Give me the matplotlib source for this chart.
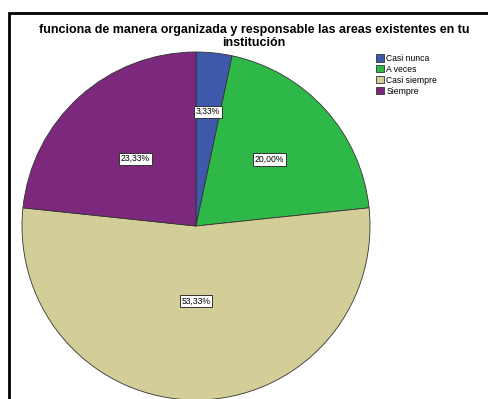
import matplotlib.pyplot as plt
import numpy as np
from matplotlib.patches import Rectangle

categories = ["Casi nunca", "A veces", "Casi siempre", "Siempre"]
percentages = [3.33, 20.00, 53.33, 23.33]
colors = ["#3E58AC", "#2EB848", "#D3CE97", "#7C287D"]
# how far out along each wedge's bisector the value box sits (fraction of radius)
label_radius = [0.66, 0.57, 0.43, 0.52]

title = "funciona de manera organizada y responsable las areas existentes en tu\ninstitución"

plt.rcParams["font.family"] = ["Liberation Sans", "DejaVu Sans"]

W, H = 489, 399
fig = plt.figure(figsize=(W / 100, H / 100), dpi=100)
ax = fig.add_axes([0, 0, 1, 1])

cx, cy, r = 196, H - 226, 174
wedges, _ = ax.pie(percentages, colors=colors, startangle=90, counterclock=False,
                   center=(cx, cy), radius=r, frame=True,
                   wedgeprops=dict(edgecolor="#333333", linewidth=0.6))

for w, pct, f in zip(wedges, percentages, label_radius):
    mid = np.deg2rad((w.theta1 + w.theta2) / 2)
    x = cx + f * r * np.cos(mid)
    y = cy + f * r * np.sin(mid)
    ax.text(x, y, f"{pct:.2f}%".replace(".", ","), ha="center", va="center",
            fontsize=6.2, color="black",
            bbox=dict(boxstyle="square,pad=0.2", fc="white", ec="#333333", lw=0.7))

ax.set_xlim(0, W)
ax.set_ylim(0, H)
ax.set_aspect("equal")
ax.axis("off")

# outer frame of the chart area
ax.add_patch(Rectangle((9, -20), W, H - 13 + 20, fill=False, ec="black", lw=2, clip_on=True))

ax.text(254, H - 36.5, title, ha="center", va="center", fontsize=9.0,
        fontweight="bold", linespacing=1.0)

leg = ax.legend(wedges, categories, loc="upper left", bbox_to_anchor=(376 / W, 1 - 54 / H),
                frameon=False, fontsize=6.2, handlelength=0.9, handleheight=0.9,
                handletextpad=0.3, labelspacing=0.22, borderpad=0, borderaxespad=0)
for h in leg.legend_handles:
    h.set_edgecolor("#333333")
    h.set_linewidth(0.6)

fig.savefig("out.png", dpi=100)
